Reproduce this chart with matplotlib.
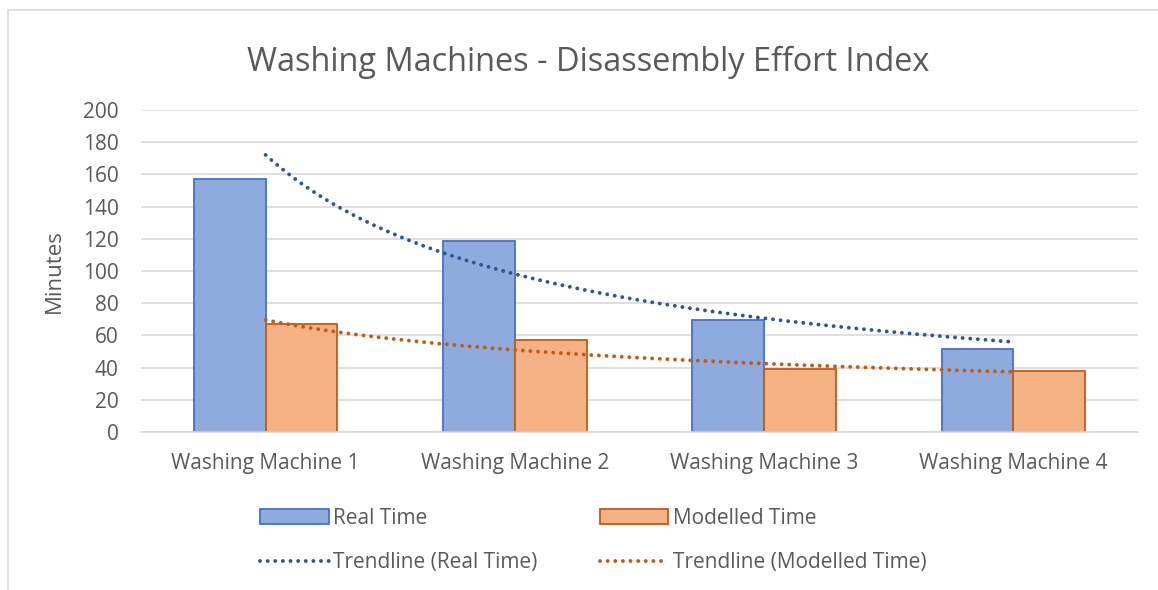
import numpy as np
import matplotlib.pyplot as plt
from matplotlib.patches import Rectangle
from matplotlib.lines import Line2D

categories = ["Washing Machine 1", "Washing Machine 2", "Washing Machine 3", "Washing Machine 4"]
real_time = [157, 118.6, 69.6, 51.5]
modelled_time = [67, 57, 39, 37.8]
yticks = [0, 20, 40, 60, 80, 100, 120, 140, 160, 180, 200]

FONT = ["Open Sans", "DejaVu Sans"]
plt.rcParams['font.family'] = FONT
TXT = "#595959"

fig = plt.figure(figsize=(11.58, 5.9), dpi=100)
ax = fig.add_axes([141/1158, 1-432/590, (1138-141)/1158, (432-110)/590])

x = np.arange(1, len(categories) + 1)
w = 0.288
ax.bar(x - w/2, real_time, w, color="#8FAADC", edgecolor="#4472C4", linewidth=1.3, label="Real Time", zorder=2)
ax.bar(x + w/2, modelled_time, w, color="#F4B183", edgecolor="#C55A11", linewidth=1.3, label="Modelled Time", zorder=2)

DOT = (0, (0.01, 1.95))
LW = 2.8
# power trendlines (Excel style)
xs = np.linspace(1, len(categories), 200)
def power_fit(vals):
    b, lna = np.polyfit(np.log(x), np.log(vals), 1)
    return np.exp(lna) * xs ** b
ax.plot(xs, power_fit(real_time), color="#2F5597", linestyle=DOT, linewidth=LW,
        dash_capstyle="round", zorder=3)
ax.plot(xs, power_fit(modelled_time), color="#C55A11", linestyle=DOT, linewidth=LW,
        dash_capstyle="round", zorder=3)

ax.set_xlim(0.5, 4.5)
ax.set_ylim(0, 200)
ax.set_yticks(yticks)
ax.set_xticks(x)
ax.set_xticklabels(categories)
ax.tick_params(axis='both', length=0, labelsize=15, colors=TXT)
ax.tick_params(axis='y', pad=16)
ax.tick_params(axis='x', pad=15)
ax.grid(axis='y', color="#D9D9D9", linewidth=1.2, zorder=0)
ax.set_axisbelow(True)
for s in ["top", "right", "left"]:
    ax.spines[s].set_visible(False)
ax.spines["bottom"].set_color("#D9D9D9")
ax.spines["bottom"].set_linewidth(1.2)
ax.set_ylabel("Minutes", fontsize=16, color=TXT, labelpad=13)

fig.text(588/1158, 1-62/590, "Washing Machines - Disassembly Effort Index", ha="center", va="center",
         fontsize=23.4, color=TXT)

handles = [
    Rectangle((0, 0), 1, 1, facecolor="#8FAADC", edgecolor="#4472C4", linewidth=1.3),
    Line2D([], [], color="#2F5597", linestyle=DOT, linewidth=LW, dash_capstyle="round"),
    Rectangle((0, 0), 1, 1, facecolor="#F4B183", edgecolor="#C55A11", linewidth=1.3),
    Line2D([], [], color="#C55A11", linestyle=DOT, linewidth=LW, dash_capstyle="round"),
]
labels = ["Real Time", "Trendline (Real Time)", "Modelled Time", "Trendline (Modelled Time)"]
fig.legend(handles, labels, ncol=2, loc="center", bbox_to_anchor=(593/1158, 1-540.5/590),
           frameon=False, fontsize=15, labelcolor=TXT, handlelength=3.3, handleheight=0.75,
           handletextpad=0.2, columnspacing=3.0, labelspacing=1.12)

fig.patches.append(Rectangle((8/1158, -0.01), 1.0, 1 - 10/590 + 0.01, transform=fig.transFigure,
                             fill=False, edgecolor="#D9D9D9", linewidth=1.2))

fig.savefig("out.png", dpi=100)
